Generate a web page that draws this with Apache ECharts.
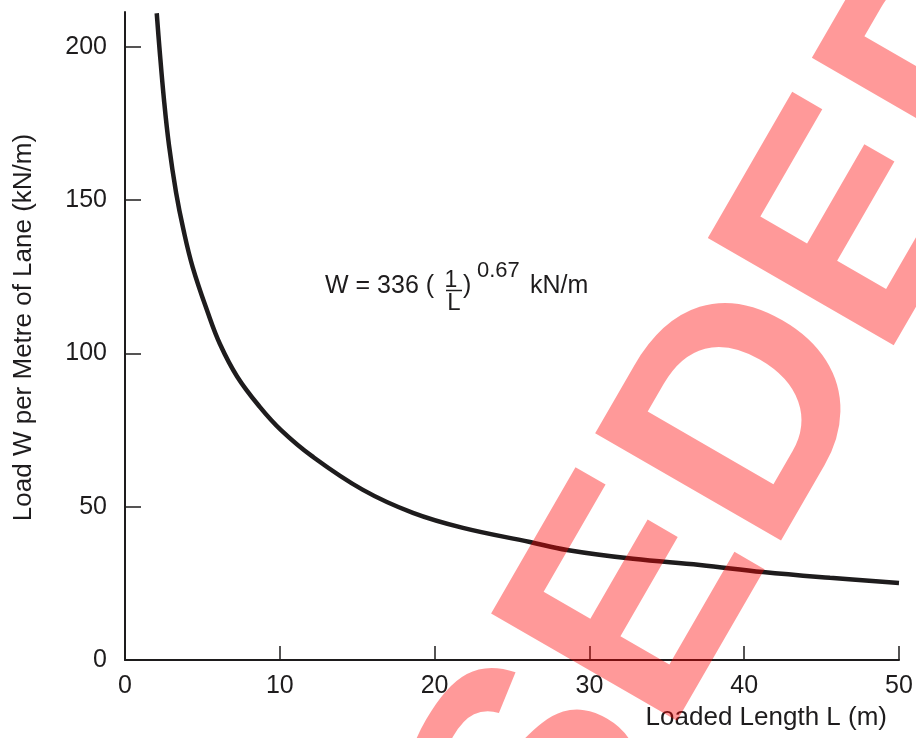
<!DOCTYPE html>
<html>
<head>
<meta charset="utf-8">
<script src="https://cdn.jsdelivr.net/npm/echarts@6/dist/echarts.min.js"></script>
<style>html,body{margin:0;padding:0;background:#fff}#c{width:916px;height:738px}</style>
</head>
<body>
<div id="c"></div>
<script>
// Loaded length L (m) and load W (kN/m)
const lengthL = [2.05, 2.22, 2.52, 2.84, 3.30, 3.77, 4.37, 5.36, 6.14, 7.24, 8.72, 10.08, 12.08, 15.37, 18.6, 21.83, 26.16, 28.55, 32.82, 37.14, 41.21, 45.54, 50];
const loadW   = [211, 200, 182.7, 168, 152.5, 140.5, 128.2, 113.2, 103, 92.5, 82.5, 75.0, 66.5, 55.5, 48.0, 43.1, 38.5, 35.9, 33.0, 31.0, 28.7, 26.8, 25.1];
const xTicks = [0, 10, 20, 30, 40, 50];
const yTicks = [0, 50, 100, 150, 200];
const xTitle = 'Loaded Length L (m)';
const yTitle = 'Load W per Metre of Lane (kN/m)';
const formulaMain = 'W = 336 (';
const formulaNum = '1';
const formulaDen = 'L';
const formulaClose = ')';
const formulaExp = '0.67';
const formulaUnit = 'kN/m';
const watermark = 'SUPERSEDED';

const FONT = '"Liberation Sans", Arial, Helvetica, sans-serif';
const INK = '#1e1c1d';

const chart = echarts.init(document.getElementById('c'), null, {renderer: 'canvas'});

function txt(text, x, y, size, align, extra) {
  return Object.assign({
    type: 'text', x: x, y: y, z: 50, silent: true,
    style: {text: text, font: size + 'px ' + FONT, fill: INK,
            textAlign: align || 'left', textVerticalAlign: 'middle'}
  }, extra || {});
}

const option = {
  animation: false,
  backgroundColor: '#ffffff',
  grid: {left: 125, right: 17, top: 12, bottom: 78, containLabel: false},
  xAxis: {
    type: 'value', min: 0, max: 50, interval: 10,
    name: xTitle, nameLocation: 'end', nameGap: -12,
    nameTextStyle: {fontFamily: FONT, fontSize: 26, color: INK, align: 'right', verticalAlign: 'top', padding: [45, 0, 0, 0]},
    axisLine: {show: true, onZero: false, lineStyle: {color: INK, width: 2}},
    axisTick: {show: true, inside: true, length: 14, customValues: xTicks, lineStyle: {color: INK, width: 1.5}},
    axisLabel: {fontFamily: FONT, fontSize: 25, color: INK, margin: 14, customValues: xTicks},
    splitLine: {show: false}
  },
  yAxis: {
    type: 'value', min: 0, max: 211.4,
    name: yTitle, nameLocation: 'middle', nameGap: 88, nameRotate: 90,
    nameTextStyle: {fontFamily: FONT, fontSize: 26, color: INK, padding: [0, 0, 0, 17]},
    axisLine: {show: true, onZero: false, lineStyle: {color: INK, width: 2}},
    axisTick: {show: true, inside: true, length: 16, customValues: yTicks, lineStyle: {color: INK, width: 1.5}},
    axisLabel: {fontFamily: FONT, fontSize: 25, color: INK, margin: 18, customValues: yTicks},
    splitLine: {show: false}
  },
  series: [{
    type: 'line',
    data: lengthL.map((l, i) => [l, loadW[i]]),
    symbol: 'none', showSymbol: false,
    smooth: 0.4,
    lineStyle: {color: INK, width: 4.5},
    z: 2
  }],
  graphic: [
    txt(formulaMain, 325, 286, 25, 'left'),
    txt(formulaNum, 451, 281, 23, 'center'),
    {type: 'line', z: 50, silent: true, shape: {x1: 446, y1: 290.5, x2: 462, y2: 290.5}, style: {stroke: INK, lineWidth: 1.5}},
    txt(formulaDen, 454, 303, 24, 'center'),
    txt(formulaClose, 463, 286, 25, 'left'),
    txt(formulaExp, 477, 271, 22, 'left'),
    txt(formulaUnit, 530, 286, 25, 'left'),
    {
      type: 'text', x: 488, y: 876, rotation: Math.PI / 3, z: 100, silent: true,
      style: {text: watermark, font: 'bold 312px ' + FONT, fill: 'rgba(255,0,0,0.4)',
              textAlign: 'center', textVerticalAlign: 'middle'}
    }
  ]
};
chart.setOption(option);
</script>
</body>
</html>
